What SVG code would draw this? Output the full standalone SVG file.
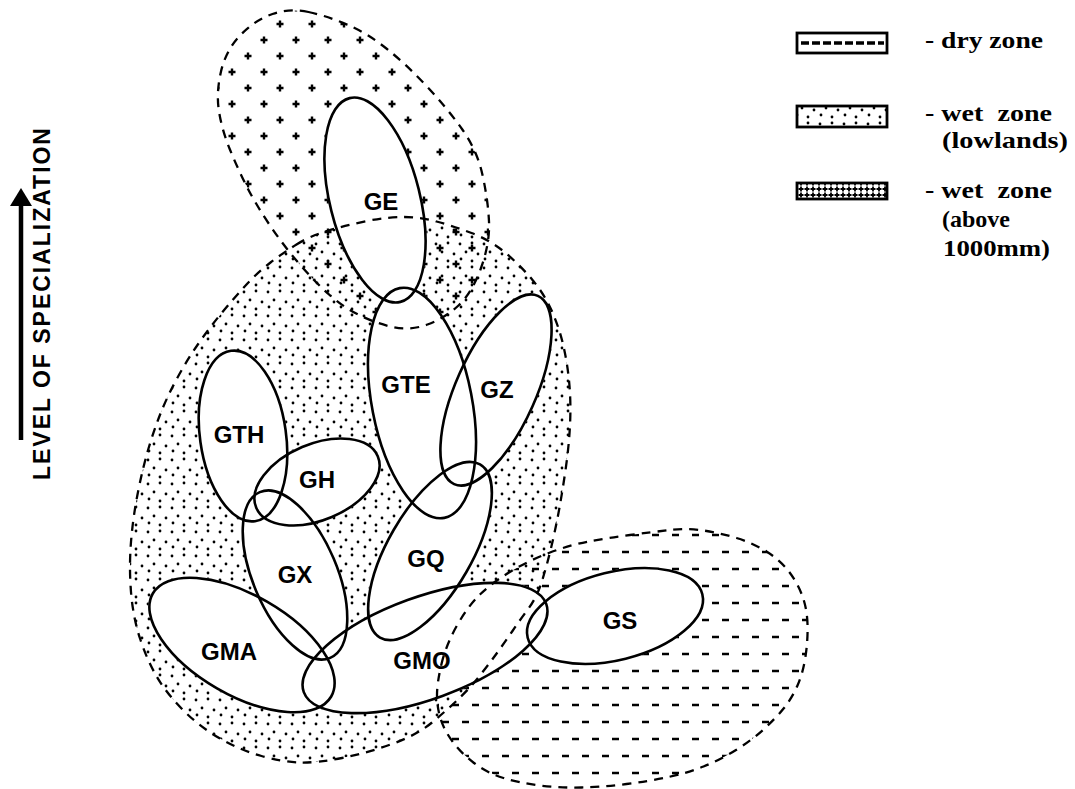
<svg xmlns="http://www.w3.org/2000/svg" xmlns:xlink="http://www.w3.org/1999/xlink" width="1075" height="789" viewBox="0 0 1075 789">
<style>
.outline{fill:none;stroke:#000;stroke-width:2.6}
.zone{fill:none;stroke:#000;stroke-width:2.3;stroke-dasharray:9 7}
.lbl{font-family:"Liberation Sans",Arial,sans-serif;font-weight:bold;font-size:24px;text-anchor:middle;fill:#000}
.leg{font-family:"Liberation Serif","Times New Roman",serif;font-weight:bold;font-size:24px;fill:#000;white-space:pre}
.legbox{stroke:#000;stroke-width:2.8}
</style>
<defs>
<pattern id="pDots" width="24" height="24" patternUnits="userSpaceOnUse">
<g fill="#000"><circle cx="4" cy="4" r="1.4"/><circle cx="16" cy="3" r="1.4"/><circle cx="10" cy="12" r="1.4"/><circle cx="22" cy="14" r="1.4"/><circle cx="5" cy="19" r="1.4"/><circle cx="16" cy="21" r="1.4"/></g>
</pattern>
<pattern id="pCross" width="32" height="32" patternUnits="userSpaceOnUse">
<path d="M4.5,8h7M8,4.5v7M20.5,24h7M24,20.5v7" stroke="#000" stroke-width="2.4"/>
</pattern>
<pattern id="pDash" width="40" height="34" patternUnits="userSpaceOnUse">
<path d="M2,8h7M22,8h7M12,25h7M32,25h7" stroke="#000" stroke-width="2.6"/>
</pattern>
<pattern id="pDense" width="6" height="6" patternUnits="userSpaceOnUse">
<path d="M0.5,3h5M3,0.5v5" stroke="#000" stroke-width="1.8"/>
</pattern>
<ellipse id="eGE" cx="375" cy="200" rx="45" ry="105" transform="rotate(-14 375 200)"/>
<ellipse id="eGTE" cx="422" cy="403" rx="50" ry="117" transform="rotate(-11 422 403)"/>
<ellipse id="eGZ" cx="496" cy="390" rx="40" ry="103" transform="rotate(24 496 390)"/>
<ellipse id="eGTH" cx="243" cy="436" rx="43" ry="86" transform="rotate(-8 243 436)"/>
<ellipse id="eGH" cx="317" cy="482" rx="66" ry="38" transform="rotate(-23 317 482)"/>
<ellipse id="eGX" cx="295" cy="575" rx="42" ry="90" transform="rotate(-23 295 575)"/>
<ellipse id="eGQ" cx="430" cy="551" rx="42" ry="100" transform="rotate(30 430 551)"/>
<ellipse id="eGMA" cx="242" cy="645" rx="103" ry="50" transform="rotate(30 242 645)"/>
<ellipse id="eGMO" cx="425" cy="648" rx="129" ry="51" transform="rotate(-20 425 648)"/>
<ellipse id="eGS" cx="615" cy="616" rx="90" ry="44" transform="rotate(-14 615 616)"/>
<path id="zUpper" d="M308.5,12 Q327,16 347,24.5 Q367,33 387,49 Q407,65 427,86.5 Q447,108 462,129 Q477,150 482.5,175 Q488,200 489,221.5 Q490,243 481,268 Q472,293 458.5,305.5 Q445,318 427.5,324.5 Q410,331 392.5,327 Q375,323 359,315 Q343,307 329,294.5 Q315,282 299,263.5 Q283,245 269,224 Q255,203 246,185 Q237,167 229.5,148.5 Q222,130 219,111.5 Q216,93 221,71.5 Q226,50 240.5,35 Q255,20 272.5,14 Q290,8 308.5,12 Z"/>
<path id="zWet" d="M296.5,244.5 Q310,236 328.5,230.5 Q347,225 367,221 Q387,217 403.5,217 Q420,217 436.5,221.5 Q453,226 471.5,233 Q490,240 505,252.5 Q520,265 532.5,280 Q545,295 552.5,312.5 Q560,330 564,348.5 Q568,367 569.5,386 Q571,405 570,425 Q569,445 566,466.5 Q563,488 559.5,507.5 Q556,527 551.5,546 Q547,565 542,581 Q537,597 528.5,608.5 Q520,620 512.5,631 Q505,642 497,653 Q489,664 479.5,676 Q470,688 458.5,699 Q447,710 432,722.5 Q417,735 392,744 Q367,753 342,758 Q317,763 300,762.5 Q283,762 261.5,756 Q240,750 220,738.5 Q200,727 183.5,710.5 Q167,694 157,677 Q147,660 140,638.5 Q133,617 131,592 Q129,567 131,542 Q133,517 138,492 Q143,467 148.5,448.5 Q154,430 160.5,413.5 Q167,397 177,378.5 Q187,360 198.5,343.5 Q210,327 222.5,312 Q235,297 246.5,284.5 Q258,272 270.5,262.5 Q283,253 296.5,244.5 Z"/>
<path id="zDry" d="M441.5,664 Q446,645 457,625.5 Q468,606 480.5,594 Q493,582 511.5,571 Q530,560 550,552.5 Q570,545 588.5,541.5 Q607,538 630,535 Q653,532 670,530 Q687,528 703.5,530.5 Q720,533 736.5,538 Q753,543 766.5,551.5 Q780,560 788.5,571 Q797,582 802,595 Q807,608 807.5,624 Q808,640 805.5,656.5 Q803,673 797.5,685.5 Q792,698 784,708 Q776,718 764,729 Q752,740 736,750 Q720,760 703.5,766.5 Q687,773 668.5,777 Q650,781 626.5,784 Q603,787 581.5,787.5 Q560,788 540,785.5 Q520,783 503.5,778 Q487,773 474,763 Q461,753 452.5,741.5 Q444,730 440.5,718.5 Q437,707 437,695 Q437,683 441.5,664 Z"/>
<mask id="holes" maskUnits="userSpaceOnUse" x="0" y="0" width="1075" height="789">
<rect x="0" y="0" width="1075" height="789" fill="#fff"/>
<g fill="#000" stroke="#000" stroke-width="2">
<use xlink:href="#eGE"/><use xlink:href="#eGTE"/><use xlink:href="#eGZ"/><use xlink:href="#eGTH"/><use xlink:href="#eGH"/><use xlink:href="#eGX"/><use xlink:href="#eGQ"/><use xlink:href="#eGMA"/><use xlink:href="#eGMO"/><use xlink:href="#eGS"/>
</g>
</mask>
</defs>
<rect x="0" y="0" width="1075" height="789" fill="#fff"/>
<g id="zones">
<g mask="url(#holes)">
<use xlink:href="#zWet" fill="url(#pDots)" stroke="none"/>
<use xlink:href="#zUpper" fill="url(#pCross)" stroke="none"/>
<use xlink:href="#zDry" fill="url(#pDash)" stroke="none"/>
</g>
<use xlink:href="#zUpper" class="zone"/>
<use xlink:href="#zWet" class="zone"/>
<use xlink:href="#zDry" class="zone"/>
</g>
<g id="node-GE"><use xlink:href="#eGE" class="outline"/><text class="lbl" x="381" y="210">GE</text></g>
<g id="node-GTE"><use xlink:href="#eGTE" class="outline"/><text class="lbl" x="406" y="393">GTE</text></g>
<g id="node-GZ"><use xlink:href="#eGZ" class="outline"/><text class="lbl" x="497" y="398">GZ</text></g>
<g id="node-GTH"><use xlink:href="#eGTH" class="outline"/><text class="lbl" x="239" y="443">GTH</text></g>
<g id="node-GH"><use xlink:href="#eGH" class="outline"/><text class="lbl" x="317" y="488">GH</text></g>
<g id="node-GX"><use xlink:href="#eGX" class="outline"/><text class="lbl" x="295" y="583">GX</text></g>
<g id="node-GQ"><use xlink:href="#eGQ" class="outline"/><text class="lbl" x="426" y="567">GQ</text></g>
<g id="node-GMA"><use xlink:href="#eGMA" class="outline"/><text class="lbl" x="229" y="660">GMA</text></g>
<g id="node-GMO"><use xlink:href="#eGMO" class="outline"/><text class="lbl" x="422" y="669">GMO</text></g>
<g id="node-GS"><use xlink:href="#eGS" class="outline"/><text class="lbl" x="620" y="629">GS</text></g>
<g id="connectors">
<line x1="21" y1="440" x2="21" y2="203" stroke="#000" stroke-width="4.5"/>
<polygon points="21,188 10,206 32,206" fill="#000"/>
</g>
<g id="axis-label">
<text transform="translate(50,304) rotate(-90)" x="0" y="0" text-anchor="middle" textLength="352" lengthAdjust="spacing" style="font-family:'Liberation Sans',Arial,sans-serif;font-weight:bold;font-size:23px">LEVEL OF SPECIALIZATION</text>
</g>
<g id="legend">
<rect class="legbox" x="797" y="33" width="90" height="20" fill="#fff"/>
<line x1="801" y1="43" x2="884" y2="43" stroke="#000" stroke-width="3.5" stroke-dasharray="8 3"/>
<rect class="legbox" x="797" y="106" width="90" height="21" fill="url(#pDots)"/>
<rect class="legbox" x="797" y="183" width="90" height="16" fill="url(#pDense)"/>
<text class="leg" x="925" y="48" textLength="118" lengthAdjust="spacingAndGlyphs">- dry zone</text>
<text class="leg" x="925" y="121" textLength="127" lengthAdjust="spacingAndGlyphs">- wet  zone</text>
<text class="leg" x="942" y="148" textLength="126" lengthAdjust="spacingAndGlyphs">(lowlands)</text>
<text class="leg" x="925" y="198" textLength="127" lengthAdjust="spacingAndGlyphs">- wet  zone</text>
<text class="leg" x="942" y="227">(above</text>
<text class="leg" x="943" y="256" textLength="107" lengthAdjust="spacingAndGlyphs">1000mm)</text>
</g>
</svg>
